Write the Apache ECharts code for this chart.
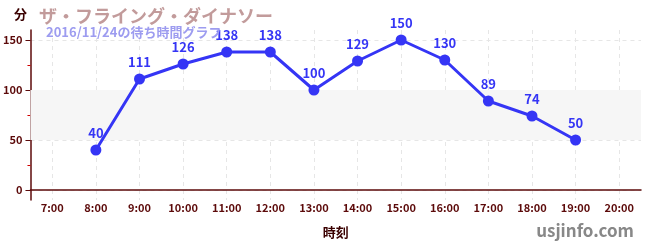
<!DOCTYPE html>
<html><head><meta charset="utf-8">
<script src="https://cdn.jsdelivr.net/npm/echarts@6/dist/echarts.min.js"></script>
<style>html,body{margin:0;padding:0;background:#fff}#c{width:650px;height:250px}</style>
</head><body><div id="c"></div>
<script>
const categories = ['7:00','8:00','9:00','10:00','11:00','12:00','13:00','14:00','15:00','16:00','17:00','18:00','19:00','20:00'];
const waitMinutes = [null,40,111,126,138,138,100,129,150,130,89,74,50,null];
const yTicks = [0,50,100,150];
const yMinorTicks = [25,75,125];
const titleText = 'ザ・フライング・ダイナソー';
const subText = '2016/11/24の待ち時間グラフ';
const font = '"Noto Sans CJK JP","Noto Sans",sans-serif';
const axisColor = '#5c0a0a';
const chart = echarts.init(document.getElementById('c'));
chart.setOption({
  animation:false,
  textStyle:{fontFamily:font},
  title:[
    {text:titleText,left:34,top:2,textStyle:{fontSize:18,fontWeight:'bold',color:'#c29b9b',fontFamily:font}},
    {text:subText,left:41,top:21,textStyle:{fontSize:13,fontWeight:'bold',color:'#9d9cf0',fontFamily:font}}
  ],
  graphic:[
    {type:'text',left:14,top:8,style:{text:'分',fontSize:13,fontWeight:'bold',fill:'#3a0000',fontFamily:font}},
    {type:'text',right:16,top:222,style:{text:'usjinfo.com',fontSize:17,fontWeight:'bold',fill:'#888',fontFamily:font}}
  ],
  grid:{left:30,right:9,top:30,bottom:50},
  xAxis:{type:'category',data:categories,boundaryGap:true,
    name:'時刻',nameLocation:'middle',nameGap:26,
    nameTextStyle:{fontSize:13,fontWeight:'bold',color:'#3a0000'},
    axisLine:{lineStyle:{color:axisColor,width:1.5}},
    axisTick:{alignWithLabel:true,inside:true,length:4,lineStyle:{color:'#666'}},
    axisLabel:{fontSize:11,fontWeight:'bold',color:axisColor,margin:2,interval:0},
    splitLine:{show:true,alignWithLabel:true,lineStyle:{color:'#e6e6e6',type:[4,4]}}
  },
  yAxis:[{type:'value',min:-10,max:160,
    axisLine:{show:true,lineStyle:{color:axisColor,width:1.5}},
    axisTick:{show:true,length:5,customValues:yTicks,lineStyle:{color:axisColor}},
    axisLabel:{fontSize:11,fontWeight:'bold',color:axisColor,margin:8,customValues:yTicks},
    splitLine:{show:true,lineStyle:{color:'#e6e6e6',type:[4,4]}}
  },{type:'value',min:-10,max:160,position:'left',
    axisLine:{show:false},
    axisTick:{show:true,length:3,customValues:yMinorTicks,lineStyle:{color:'#d00000'}},
    axisLabel:{show:false,customValues:yMinorTicks},
    splitLine:{show:false}
  }],
  series:[{type:'line',data:waitMinutes,connectNulls:false,
    lineStyle:{color:'#3535f5',width:3},
    itemStyle:{color:'#3535f5'},
    symbol:'circle',symbolSize:11,
    label:{show:true,position:'top',distance:5,fontSize:13,fontWeight:'bold',color:'#3535f5'},
    markArea:{silent:true,itemStyle:{color:'#f6f6f6'},data:[[{yAxis:50},{yAxis:100}]]},
    z:3
  }]
});
</script></body></html>
